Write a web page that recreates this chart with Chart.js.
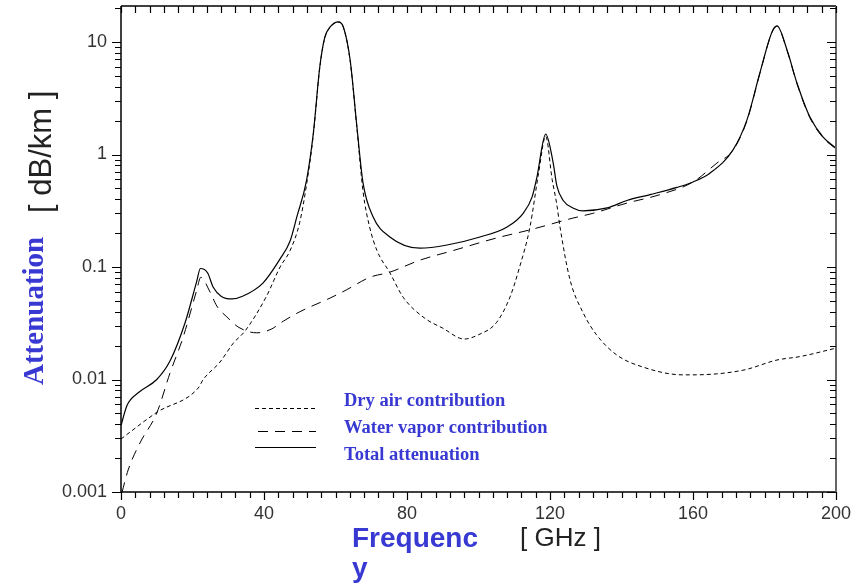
<!DOCTYPE html>
<html>
<head>
<meta charset="utf-8">
<script src="https://cdn.jsdelivr.net/npm/chart.js@4.4.1/dist/chart.umd.min.js"></script>
<style>
  html, body { margin: 0; padding: 0; background: #fff; }
  #wrap { width: 858px; height: 585px; }
</style>
</head>
<body>
<div id="wrap"><canvas id="grafico" width="858" height="585"></canvas></div>
<script>
// Total attenuation (solid)
const totalFreq = [0, 1.7, 5, 10, 13.7, 17.9, 21.2, 22.2, 24.2, 25.8, 28, 31, 34, 39.7, 44.5, 47.3, 49.2, 51.9, 53.8, 55.6, 57, 58.5, 60.8, 62.2, 64.1, 66, 67.7, 70.5, 75.2, 83.6, 91.2, 100.4, 108, 112.5, 115, 116.3, 118.8, 120.9, 121.9, 123.7, 126.4, 129.2, 136, 141.5, 148, 155.5, 160, 164.8, 171.2, 175.1, 178.7, 182.1, 183.5, 186.3, 189.1, 192.7, 196.4, 200];
const totalVals = [0.0039, 0.0059, 0.0077, 0.01, 0.0146, 0.0318, 0.075, 0.097, 0.089, 0.066, 0.055, 0.052, 0.055, 0.072, 0.118, 0.17, 0.28, 0.59, 1.55, 6.0, 11.0, 13.6, 15.1, 13.6, 6.9, 1.75, 0.56, 0.28, 0.185, 0.147, 0.157, 0.185, 0.227, 0.3, 0.42, 0.62, 1.52, 0.84, 0.53, 0.39, 0.335, 0.316, 0.335, 0.39, 0.44, 0.51, 0.57, 0.685, 1.1, 2.03, 5.3, 12.3, 13.9, 8.5, 4.3, 2.15, 1.43, 1.14];

// Dry air contribution (short dashes)
const dryFreq = [0, 10, 21.6, 23, 27.7, 31.4, 34.7, 40.7, 44.5, 47.3, 50, 51.9, 53.8, 55.6, 57, 58.5, 60.8, 62.2, 64.1, 66, 67.7, 69.5, 71.6, 75.2, 78.9, 85, 90, 96, 100, 105, 108.8, 111.5, 114.4, 116.8, 118.8, 120.6, 121.9, 122.8, 125.6, 129.3, 133, 138.7, 146, 157.2, 160, 174, 183.5, 190, 200];
const dryVals = [0.00296, 0.0051, 0.0084, 0.01, 0.0143, 0.021, 0.027, 0.055, 0.1, 0.14, 0.25, 0.54, 1.5, 5.9, 10.9, 13.5, 15.0, 13.5, 6.8, 1.7, 0.47, 0.23, 0.14, 0.089, 0.054, 0.035, 0.0286, 0.0229, 0.025, 0.032, 0.054, 0.1, 0.227, 0.68, 1.45, 0.6, 0.36, 0.227, 0.077, 0.039, 0.025, 0.0165, 0.0129, 0.011, 0.011, 0.0121, 0.0149, 0.016, 0.019];

// Water vapor contribution (long dashes)
const waterFreq = [0.3, 2, 5.3, 10, 13.7, 17.4, 21.2, 22.3, 24.9, 26.8, 29.6, 33, 38, 42, 45.4, 50, 58.5, 63, 69.6, 75.2, 83.6, 92.9, 105, 114.4, 126.4, 132, 141.5, 150.8, 160, 166.7, 171.2, 175.1, 178.7, 182.1, 183.5, 186.3, 189.1, 192.7, 196.4, 200];
const waterVals = [0.001, 0.00157, 0.00273, 0.00503, 0.0114, 0.0239, 0.0625, 0.081, 0.06, 0.045, 0.036, 0.029, 0.026, 0.028, 0.033, 0.04, 0.053, 0.0625, 0.081, 0.09, 0.115, 0.14, 0.181, 0.214, 0.272, 0.3, 0.37, 0.44, 0.57, 0.84, 1.09, 2.0, 5.25, 12.2, 13.8, 8.4, 4.25, 2.12, 1.41, 1.12];

// Etiquetas de los ejes
const xTicks = [0, 40, 80, 120, 160, 200];
const yTicks = [0.001, 0.01, 0.1, 1, 10];
const yTickLabels = ['0.001', '0.01', '0.1', '1', '10'];
const legendLabels = ['Dry air contribution', 'Water vapor contribution', 'Total attenuation'];

const azul = '#3838d2';

function puntos(xs, ys) {
  return xs.map((x, i) => ({ x: x, y: ys[i] }));
}

// Plugin para marco, marcas, etiquetas y leyenda
const marcoPlugin = {
  id: 'marco',
  afterDraw(chart) {
    const ctx = chart.ctx;
    const a = chart.chartArea;
    const xs = chart.scales.x;
    const ys = chart.scales.y;
    ctx.save();

    // marco
    ctx.strokeStyle = '#000';
    ctx.lineWidth = 1.5;
    ctx.beginPath();
    ctx.moveTo(a.left, a.top);
    ctx.lineTo(a.right, a.top);
    ctx.moveTo(a.left, a.top);
    ctx.lineTo(a.left, a.bottom);
    ctx.lineTo(a.right, a.bottom);
    ctx.stroke();
    ctx.strokeStyle = '#666';
    ctx.lineWidth = 2;
    ctx.beginPath();
    ctx.moveTo(a.right, a.top);
    ctx.lineTo(a.right, a.bottom);
    ctx.stroke();

    // marcas eje x (abajo hacia afuera, arriba hacia adentro)
    ctx.strokeStyle = '#000';
    ctx.lineWidth = 1.2;
    ctx.beginPath();
    for (let f = 0; f <= 200; f += 4) {
      const px = Math.round(xs.getPixelForValue(f)) + 0.5;
      const largo = f % 40 === 0 ? 8 : 6;
      ctx.moveTo(px, a.bottom);
      ctx.lineTo(px, a.bottom + largo);
      ctx.moveTo(px, a.top);
      ctx.lineTo(px, a.top + 7);
    }
    // marcas eje y (izquierda hacia afuera, derecha hacia adentro)
    for (let d = -3; d <= 1; d++) {
      for (let m = 1; m <= 9; m++) {
        const v = m * Math.pow(10, d);
        if (v > ys.max) break;
        const py = Math.round(ys.getPixelForValue(v)) + 0.5;
        const largo = m === 1 ? 9 : 6;
        ctx.moveTo(a.left - largo, py);
        ctx.lineTo(a.left, py);
        ctx.moveTo(a.right - largo, py);
        ctx.lineTo(a.right, py);
      }
    }
    ctx.stroke();

    // etiquetas de marcas
    ctx.fillStyle = '#333';
    ctx.font = '18px "Liberation Sans", Arial, sans-serif';
    ctx.textAlign = 'center';
    ctx.textBaseline = 'alphabetic';
    xTicks.forEach(f => {
      ctx.fillText(String(f), xs.getPixelForValue(f), 519);
    });
    ctx.textAlign = 'right';
    ctx.textBaseline = 'middle';
    yTicks.forEach((v, i) => {
      ctx.fillText(yTickLabels[i], 107, ys.getPixelForValue(v));
    });

    // titulo eje y
    ctx.save();
    ctx.translate(43, 385);
    ctx.rotate(-Math.PI / 2);
    ctx.textAlign = 'left';
    ctx.textBaseline = 'alphabetic';
    ctx.fillStyle = azul;
    ctx.font = 'bold 29px "Liberation Serif", "Times New Roman", serif';
    ctx.fillText('Attenuation', 0, 0);
    ctx.restore();
    ctx.save();
    ctx.translate(42, 213);
    ctx.rotate(-Math.PI / 2);
    ctx.textAlign = 'left';
    ctx.fillStyle = '#222';
    ctx.font = '31px "Liberation Sans", Arial, sans-serif';
    ctx.fillText('[ dB/km ]', 0, 0);
    ctx.restore();

    // titulo eje x
    ctx.textAlign = 'left';
    ctx.textBaseline = 'alphabetic';
    ctx.fillStyle = azul;
    ctx.font = 'bold 28px "Liberation Sans", Arial, sans-serif';
    ctx.fillText('Frequenc', 352, 547);
    ctx.fillText('y', 352, 577);
    ctx.fillStyle = '#222';
    ctx.font = '26px "Liberation Sans", Arial, sans-serif';
    ctx.fillText('[ GHz ]', 520, 546);

    // leyenda
    const estilos = [[4, 3], [10, 7], []];
    const yLineas = [408.5, 431.5, 447.5];
    const yTextos = [406, 433, 460];
    ctx.strokeStyle = '#000';
    ctx.lineWidth = 1;
    estilos.forEach((dash, i) => {
      ctx.setLineDash(dash);
      ctx.beginPath();
      ctx.moveTo(i === 1 ? 258 : 255, yLineas[i]);
      ctx.lineTo(316, yLineas[i]);
      ctx.stroke();
    });
    ctx.setLineDash([]);
    ctx.fillStyle = azul;
    ctx.font = 'bold 18.5px "Liberation Serif", "Times New Roman", serif';
    legendLabels.forEach((t, i) => {
      ctx.fillText(t, 344, yTextos[i]);
    });

    ctx.restore();
  }
};

const ctxLinea = document.getElementById('grafico').getContext('2d');
const grafico = new Chart(ctxLinea, {
  type: 'line',
  data: {
    datasets: [
      {
        label: legendLabels[0],
        data: puntos(dryFreq, dryVals),
        borderColor: '#000',
        borderWidth: 1,
        borderDash: [4, 3],
        pointRadius: 0,
        cubicInterpolationMode: 'monotone'
      },
      {
        label: legendLabels[1],
        data: puntos(waterFreq, waterVals),
        borderColor: '#000',
        borderWidth: 1,
        borderDash: [10, 7],
        pointRadius: 0,
        cubicInterpolationMode: 'monotone'
      },
      {
        label: legendLabels[2],
        data: puntos(totalFreq, totalVals),
        borderColor: '#000',
        borderWidth: 1.2,
        pointRadius: 0,
        cubicInterpolationMode: 'monotone'
      }
    ]
  },
  options: {
    responsive: false,
    animation: false,
    devicePixelRatio: 1,
    layout: { padding: { left: 121, right: 22, top: 6, bottom: 93 } },
    plugins: { legend: { display: false }, tooltip: { enabled: false } },
    scales: {
      x: { type: 'linear', min: 0, max: 200, display: false },
      y: { type: 'logarithmic', min: 0.001, max: 20.9, display: false }
    }
  },
  plugins: [marcoPlugin]
});
</script>
</body>
</html>
